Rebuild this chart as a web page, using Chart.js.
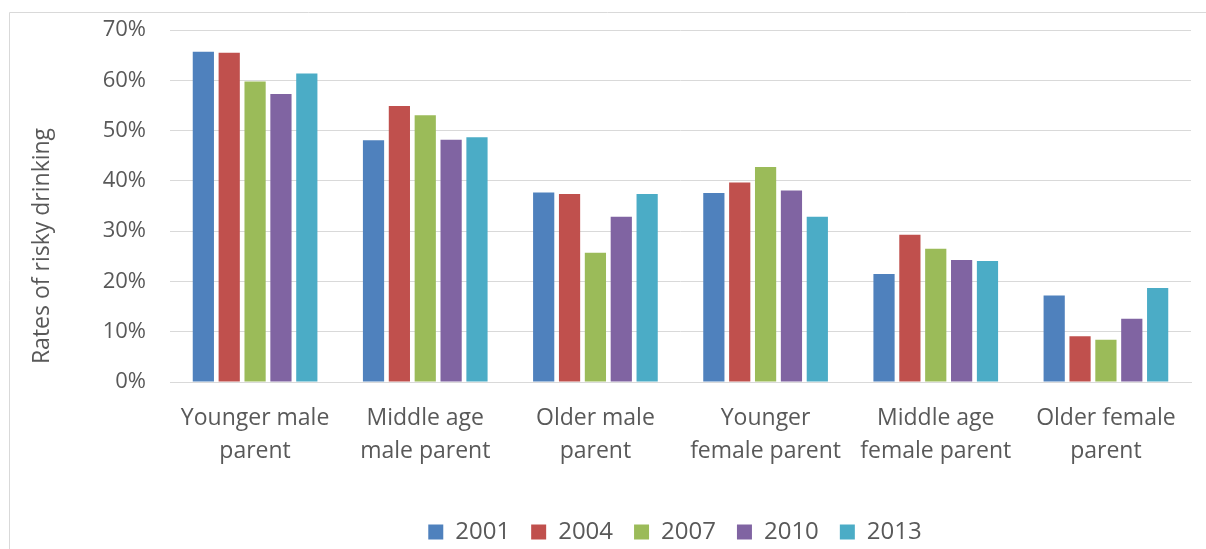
<!DOCTYPE html>
<html>
<head>
<meta charset="utf-8">
<script src="https://cdn.jsdelivr.net/npm/chart.js@4"></script>
<style>
  html, body { margin: 0; padding: 0; background: #fff; }
  #wrap { width: 1206px; height: 549px; }
</style>
</head>
<body>
<div id="wrap"><canvas id="chart" width="1206" height="549"></canvas></div>
<script>
// Categories
const categories = [
    ['Younger male', 'parent'],
    ['Middle age', 'male parent'],
    ['Older male', 'parent'],
    ['Younger', 'female parent'],
    ['Middle age', 'female parent'],
    ['Older female', 'parent']
];

// Values per year (% risky drinking)
const years = ['2001', '2004', '2007', '2010', '2013'];
const y2001 = [65.7, 48.1, 37.7, 37.6, 21.5, 17.2];
const y2004 = [65.5, 54.9, 37.4, 39.7, 29.3, 9.1];
const y2007 = [59.8, 53.1, 25.7, 42.8, 26.5, 8.4];
const y2010 = [57.3, 48.2, 32.9, 38.1, 24.3, 12.6];
const y2013 = [61.4, 48.7, 37.4, 32.9, 24.1, 18.7];
const seriesColors = ['#4f81bd', '#c0504d', '#9bbb59', '#8064a2', '#4bacc6'];

const yTicks = [0, 10, 20, 30, 40, 50, 60, 70];

const textColor = '#595959';
const fontFamily = '"Open Sans", "Liberation Sans", sans-serif';

// Рамка вокруг области диаграммы
const frame = {
    id: 'frame',
    beforeDraw(chart) {
        const ctx = chart.ctx;
        ctx.save();
        ctx.strokeStyle = '#d9d9d9';
        ctx.lineWidth = 1;
        ctx.beginPath();
        ctx.moveTo(9.5, 549);
        ctx.lineTo(9.5, 12.5);
        ctx.lineTo(1206, 12.5);
        ctx.stroke();
        ctx.restore();
    }
};

// Легенда в Excel стоит чуть правее центра
const legendShift = {
    id: 'legendShift',
    afterLayout(chart) {
        const lg = chart.legend;
        const dx = 675 - (lg.left + lg.right) / 2;
        lg.left += dx;
        lg.right += dx;
    }
};

const allSeries = [y2001, y2004, y2007, y2010, y2013];

new Chart(document.getElementById('chart'), {
    type: 'bar',
    data: {
        labels: categories,
        datasets: years.map((yr, i) => ({
            label: yr,
            data: allSeries[i],
            backgroundColor: seriesColors[i],
            borderWidth: 0,
            categoryPercentage: 0.76,
            barPercentage: 0.82
        }))
    },
    options: {
        responsive: false,
        animation: false,
        layout: { padding: { left: 25, right: 15, top: 10, bottom: -5 } },
        plugins: {
            legend: {
                position: 'bottom',
                labels: {
                    color: textColor,
                    font: { family: fontFamily, size: 24 },
                    boxWidth: 15,
                    boxHeight: 15,
                    padding: 21
                }
            },
            tooltip: { enabled: false }
        },
        scales: {
            x: {
                grid: { display: false },
                border: { color: '#d9d9d9', width: 1 },
                afterFit(scale) { scale.height = 117; },
                ticks: {
                    color: textColor,
                    font: { family: fontFamily, size: 23, lineHeight: 1.43 },
                    padding: 12,
                    maxRotation: 0,
                    autoSkip: false
                }
            },
            y: {
                min: 0,
                max: 70,
                afterBuildTicks(scale) {
                    scale.ticks = yTicks.map(v => ({ value: v }));
                },
                afterFit(scale) { scale.width = 145; },
                grid: {
                    color: '#d9d9d9',
                    lineWidth: 1,
                    drawTicks: true,
                    tickLength: 7,
                    tickColor: 'rgba(0,0,0,0)'
                },
                border: { display: false },
                ticks: {
                    color: textColor,
                    font: { family: fontFamily, size: 22 },
                    padding: 17,
                    callback: v => v + '%'
                },
                title: {
                    display: true,
                    align: 'start',
                    text: '   Rates of risky drinking',
                    color: textColor,
                    font: { family: fontFamily, size: 23 },
                    padding: { top: 4, bottom: 0 }
                }
            }
        }
    },
    plugins: [frame, legendShift]
});
</script>
</body>
</html>
